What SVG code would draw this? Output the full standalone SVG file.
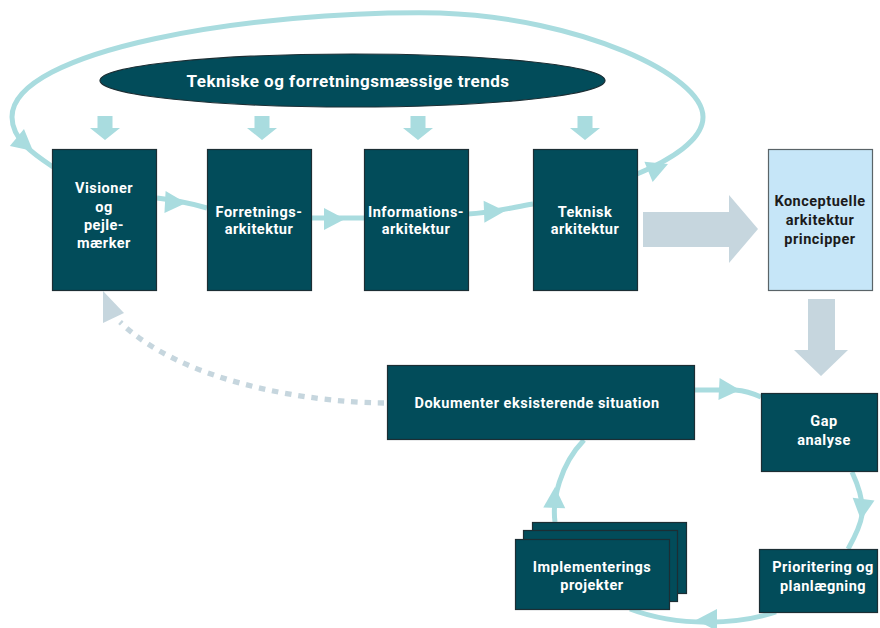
<svg xmlns="http://www.w3.org/2000/svg" xmlns:xlink="http://www.w3.org/1999/xlink" width="880" height="628" viewBox="0 0 880 628">
  <style>
    .box { fill: #024c5a; stroke: #1c2e34; stroke-width: 1.2; }
    .light { fill: #c6e6f8; stroke: #5a6468; stroke-width: 1.2; }
    .lbl { font-family: Roboto, "Liberation Sans", sans-serif; font-weight: bold; font-size: 14.5px; letter-spacing: 0.5px; fill: #ffffff; text-anchor: middle; }
    .dark { fill: #1b1b1b; }
    .title { font-size: 17px; }
    .flow { fill: none; stroke: #a9dcdf; stroke-width: 5; }
    .dash { fill: none; stroke: #c6d6de; stroke-width: 5.3; stroke-dasharray: 6.5 6.8; }
    .tip { fill: #a9dcdf; }
    .grey { fill: #c6d6de; }
  </style>
  <defs>
    <!-- arrowhead with its tip at the origin, pointing along +x -->
    <path id="head" d="M0,0 L-21,-11 L-21,11 Z"/>
    <!-- small block arrow pointing down -->
    <path id="drop" d="M-7.5,0 H7.5 V12 H15 L0,24 L-15,12 H-7.5 Z"/>
  </defs>

  <!-- ellipse with trends -->
  <g id="trends">
    <ellipse cx="352.5" cy="80.5" rx="252.5" ry="26.5" class="box"/>
    <text x="348" y="87" class="lbl title">Tekniske og forretningsmæssige trends</text>
  </g>

  <!-- small arrows below the ellipse -->
  <g id="drops" class="tip">
    <use xlink:href="#drop" transform="translate(105,116)"/>
    <use xlink:href="#drop" transform="translate(262,116)"/>
    <use xlink:href="#drop" transform="translate(418,116)"/>
    <use xlink:href="#drop" transform="translate(585,116)"/>
  </g>

  <g id="connectors">
    <!-- big loop from Teknisk back to Visioner -->
    <path class="flow" d="M637,174 C670,160 703,140 703,117 C703,75 580,18 440,13 C250,10 12,50 12,117 C12,140 35,155 53,167"/>
    <use class="tip" xlink:href="#head" transform="translate(668,164) rotate(-22)"/>
    <use class="tip" xlink:href="#head" transform="translate(33,151) rotate(40)"/>

    <!-- chain along the top row -->
    <path class="flow" d="M157,198 C175,200 190,203 207,208"/>
    <use class="tip" xlink:href="#head" transform="translate(186,203) rotate(3)"/>
    <path class="flow" d="M312,218 L364,218"/>
    <use class="tip" xlink:href="#head" transform="translate(345,219)"/>
    <path class="flow" d="M468,214 C490,213 510,208 533,204"/>
    <use class="tip" xlink:href="#head" transform="translate(505,211) rotate(-2)"/>

    <!-- grey block arrows -->
    <polygon class="grey" points="643,212 729,212 729,195 758,229 729,263 729,247 643,247"/>
    <polygon class="grey" points="808,299 835,299 835,350 848,350 821,376 794,350 808,350"/>

    <!-- implementation cycle -->
    <path class="flow" d="M695,390 L735,390 Q748,391 761,397"/>
    <use class="tip" xlink:href="#head" transform="translate(740,390) rotate(3)"/>
    <path class="flow" d="M852,472 C858,485 864,500 862,515 C860,528 853,540 848,549"/>
    <use class="tip" xlink:href="#head" transform="translate(861,520) rotate(97)"/>
    <path class="flow" d="M776,612 C740,624 680,628 630,609"/>
    <use class="tip" xlink:href="#head" transform="translate(696,620) rotate(180)"/>
    <path class="flow" d="M555,522 C552,500 560,465 584,440"/>
    <use class="tip" xlink:href="#head" transform="translate(555,487) rotate(-88)"/>

    <!-- dashed return to Visioner -->
    <path class="dash" d="M384,403 C300,402 180,380 120,322"/>
    <polygon class="grey" points="103,291 103,323 124,313"/>
  </g>

  <g id="visioner">
    <rect x="52.5" y="149.5" width="104" height="141" class="box"/>
    <text class="lbl"><tspan x="104" y="193">Visioner</tspan><tspan x="104" y="212">og</tspan><tspan x="104" y="230">pejle-</tspan><tspan x="104" y="248">mærker</tspan></text>
  </g>
  <g id="forretning">
    <rect x="207.5" y="149.5" width="104" height="141" class="box"/>
    <text class="lbl"><tspan x="259" y="217">Forretnings-</tspan><tspan x="259" y="234">arkitektur</tspan></text>
  </g>
  <g id="information">
    <rect x="364.5" y="149.5" width="104" height="141" class="box"/>
    <text class="lbl"><tspan x="416" y="217">Informations-</tspan><tspan x="416" y="234">arkitektur</tspan></text>
  </g>
  <g id="teknisk">
    <rect x="533.5" y="149.5" width="104" height="141" class="box"/>
    <text class="lbl"><tspan x="585" y="217">Teknisk</tspan><tspan x="585" y="234">arkitektur</tspan></text>
  </g>
  <g id="konceptuelle">
    <rect x="768.5" y="149.5" width="104" height="141" class="light"/>
    <text class="lbl dark"><tspan x="820" y="206">Konceptuelle</tspan><tspan x="820" y="225">arkitektur</tspan><tspan x="820" y="244">principper</tspan></text>
  </g>
  <g id="dokumenter">
    <rect x="387.5" y="365.5" width="307" height="74" class="box"/>
    <text x="537" y="408" class="lbl">Dokumenter eksisterende situation</text>
  </g>
  <g id="gap">
    <rect x="761.5" y="393.5" width="116" height="78" class="box"/>
    <text class="lbl"><tspan x="824" y="426">Gap</tspan><tspan x="824" y="445">analyse</tspan></text>
  </g>
  <g id="prioritering">
    <rect x="759.5" y="549.5" width="118" height="63" class="box"/>
    <text class="lbl"><tspan x="823" y="572">Prioritering og</tspan><tspan x="823" y="591">planlægning</tspan></text>
  </g>
  <g id="implementering">
    <rect x="532.5" y="522.5" width="154" height="71" class="box"/>
    <rect x="523.5" y="530.5" width="154" height="71" class="box"/>
    <rect x="515.5" y="539.5" width="154" height="70" class="box"/>
    <text class="lbl"><tspan x="592" y="572">Implementerings</tspan><tspan x="592" y="590">projekter</tspan></text>
  </g>
</svg>
